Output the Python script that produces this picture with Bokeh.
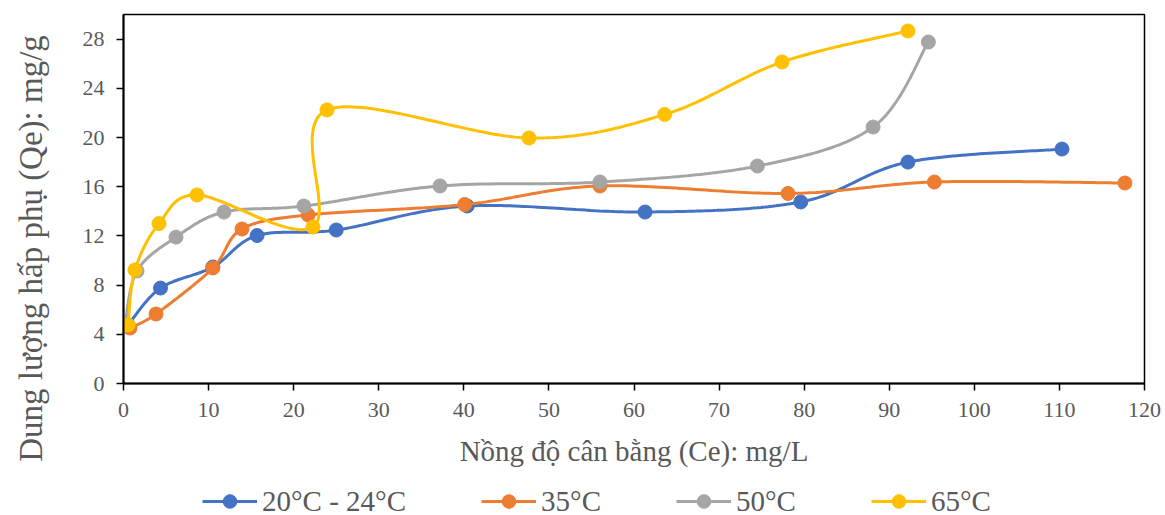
import numpy as np
from bokeh.plotting import figure
from bokeh.layouts import column, row
from bokeh.models import Legend, LegendItem, Label, FixedTicker, Range1d
from bokeh.embed import file_html
from bokeh.resources import INLINE

# Equilibrium concentration Ce (mg/L) and adsorption capacity Qe (mg/g)
ce_20_24 = [0.53, 4.35, 10.5, 15.7, 25.0, 40.4, 61.3, 79.6, 92.2, 110.3]
qe_20_24 = [4.76, 7.76, 9.47, 12.03, 12.48, 14.43, 13.94, 14.76, 18.0, 19.06]

ce_35 = [0.76, 3.82, 10.5, 13.93, 21.7, 40.1, 56.0, 78.1, 95.3, 117.7]
qe_35 = [4.51, 5.65, 9.39, 12.56, 13.7, 14.55, 16.06, 15.45, 16.38, 16.3]

ce_50 = [0.18, 1.59, 6.17, 11.81, 21.2, 37.2, 56.0, 74.5, 88.1, 94.6]
qe_50 = [4.76, 9.15, 11.9, 13.94, 14.43, 16.06, 16.38, 17.68, 20.85, 27.76]

ce_65 = [0.53, 1.35, 4.17, 8.64, 22.27, 23.92, 47.66, 63.6, 77.4, 92.2]
qe_65 = [4.76, 9.23, 13.0, 15.33, 12.72, 22.24, 19.96, 21.87, 26.14, 28.66]

series_names = ["20°C - 24°C", "35°C", "50°C", "65°C"]
series_colors = ["#4472C4", "#ED7D31", "#A5A5A5", "#FFC000"]
series_data = [(ce_20_24, qe_20_24), (ce_35, qe_35), (ce_50, qe_50), (ce_65, qe_65)]

x_ticks = list(range(0, 121, 10))
y_ticks = list(range(0, 29, 4))

X_MIN, X_MAX = 0, 120
Y_MIN, Y_MAX = 0, 30

W, H = 1165, 515
TITLE_W = 60          # strip holding the vertical axis title
LEGEND_H = 35         # strip holding the legend
MAIN_W, MAIN_H = W - TITLE_W, H - LEGEND_H
LEFT, RIGHT, TOP, BOTTOM = 123 - TITLE_W, 21, 14, 97
FRAME_W = MAIN_W - LEFT - RIGHT
FRAME_H = MAIN_H - TOP - BOTTOM

FONT = "Liberation Serif"
TEXT_COLOR = "#595959"


def smooth_curve(xs, ys, steps=40):
    """Spreadsheet-style smoothed line: cubic Bezier segments whose
    control points follow the neighbouring points, computed in pixel space."""
    sx = FRAME_W / (X_MAX - X_MIN)
    sy = FRAME_H / (Y_MAX - Y_MIN)
    pts = np.column_stack([np.asarray(xs) * sx, np.asarray(ys) * sy])
    n = len(pts)
    out = []
    t = np.linspace(0, 1, steps)[:, None]
    for i in range(n - 1):
        p0 = pts[i - 1] if i > 0 else pts[i]
        p1 = pts[i]
        p2 = pts[i + 1]
        p3 = pts[i + 2] if i + 2 < n else pts[i + 1]
        d12 = np.linalg.norm(p2 - p1)
        d02 = np.linalg.norm(p2 - p0)
        d13 = np.linalg.norm(p3 - p1)
        s1 = 1 / 6 if d02 == 0 else min(1 / 6, d12 / (2 * d02))
        s2 = 1 / 6 if d13 == 0 else min(1 / 6, d12 / (2 * d13))
        c1 = p1 + (p2 - p0) * s1
        c2 = p2 - (p3 - p1) * s2
        seg = ((1 - t) ** 3) * p1 + 3 * ((1 - t) ** 2) * t * c1 \
            + 3 * (1 - t) * t ** 2 * c2 + t ** 3 * p2
        out.append(seg if i == 0 else seg[1:])
    curve = np.vstack(out)
    return curve[:, 0] / sx, curve[:, 1] / sy


def blank_figure(width, height, **kw):
    f = figure(width=width, height=height, output_backend="svg",
               toolbar_location=None, x_axis_location=None, y_axis_location=None,
               min_border=0, **kw)
    f.outline_line_color = None
    f.background_fill_color = "white"
    f.border_fill_color = "white"
    f.grid.visible = False
    return f


# ---- main chart ----
p = figure(
    width=MAIN_W, height=MAIN_H,
    x_range=Range1d(X_MIN, X_MAX), y_range=Range1d(Y_MIN, Y_MAX),
    output_backend="svg", toolbar_location=None,
    min_border_left=LEFT, min_border_right=RIGHT,
    min_border_top=TOP, min_border_bottom=BOTTOM,
)
p.background_fill_color = "white"
p.border_fill_color = "white"
p.outline_line_color = "black"
p.outline_line_width = 1.5
p.xgrid.visible = False
p.ygrid.visible = False

for ax, ticks in ((p.xaxis, x_ticks), (p.yaxis, y_ticks)):
    ax.ticker = FixedTicker(ticks=ticks)
    ax.axis_line_color = "black"
    ax.axis_line_width = 2
    ax.major_tick_line_color = "black"
    ax.major_tick_line_width = 1.5
    ax.major_tick_out = 7
    ax.major_tick_in = 0
    ax.minor_tick_line_color = None
    ax.major_label_text_font = FONT
    ax.major_label_text_font_size = "22px"
    ax.major_label_text_color = TEXT_COLOR
p.yaxis.major_label_standoff = 12
p.xaxis.major_label_standoff = 12

p.xaxis.axis_label = "Nồng độ cân bằng (Ce): mg/L"
p.xaxis.axis_label_text_font = FONT
p.xaxis.axis_label_text_font_size = "29px"
p.xaxis.axis_label_text_font_style = "normal"
p.xaxis.axis_label_text_color = TEXT_COLOR
p.xaxis.axis_label_standoff = 15

for name, color, (xs, ys) in zip(series_names, series_colors, series_data):
    cx, cy = smooth_curve(xs, ys)
    p.line(cx, cy, line_color=color, line_width=3)
    p.scatter(xs, ys, size=14, fill_color=color, line_color=color, marker="circle")

# ---- vertical axis title, spanning the full height ----
ytitle_fig = blank_figure(TITLE_W, H)
ytitle_fig.add_layout(Label(
    x=30, y=H - 248, x_units="screen", y_units="screen",
    text="Dung lượng hấp phụ (Qe): mg/g", angle=np.pi / 2,
    text_font=FONT, text_font_size="33px", text_color=TEXT_COLOR,
    text_align="center", text_baseline="middle",
))

# ---- legend strip: the series are plotted outside its visible range,
# so only the legend keys show; its frame lines up with the chart frame ----
leg_fig = blank_figure(MAIN_W, LEGEND_H,
                       x_range=Range1d(X_MAX + 1, X_MAX + 2),
                       y_range=Range1d(Y_MAX + 1, Y_MAX + 2))
items = []
for name, color, (xs, ys) in zip(series_names, series_colors, series_data):
    ln = leg_fig.line(xs, ys, line_color=color, line_width=3)
    sc = leg_fig.scatter(xs, ys, size=14, fill_color=color, line_color=color,
                         marker="circle")
    items.append(LegendItem(label=name, renderers=[ln, sc]))

legend = Legend(
    items=items, orientation="horizontal",
    location=(79, -3),
    glyph_width=55, glyph_height=34, label_standoff=5, spacing=75,
    padding=0, margin=0,
    label_text_font=FONT, label_text_font_size="29px", label_text_color=TEXT_COLOR,
    border_line_alpha=0, background_fill_alpha=0,
)
leg_fig.add_layout(legend)

layout = row(ytitle_fig, column(p, leg_fig, spacing=0), spacing=0)

open("out.html", "w").write(file_html(layout, INLINE))
